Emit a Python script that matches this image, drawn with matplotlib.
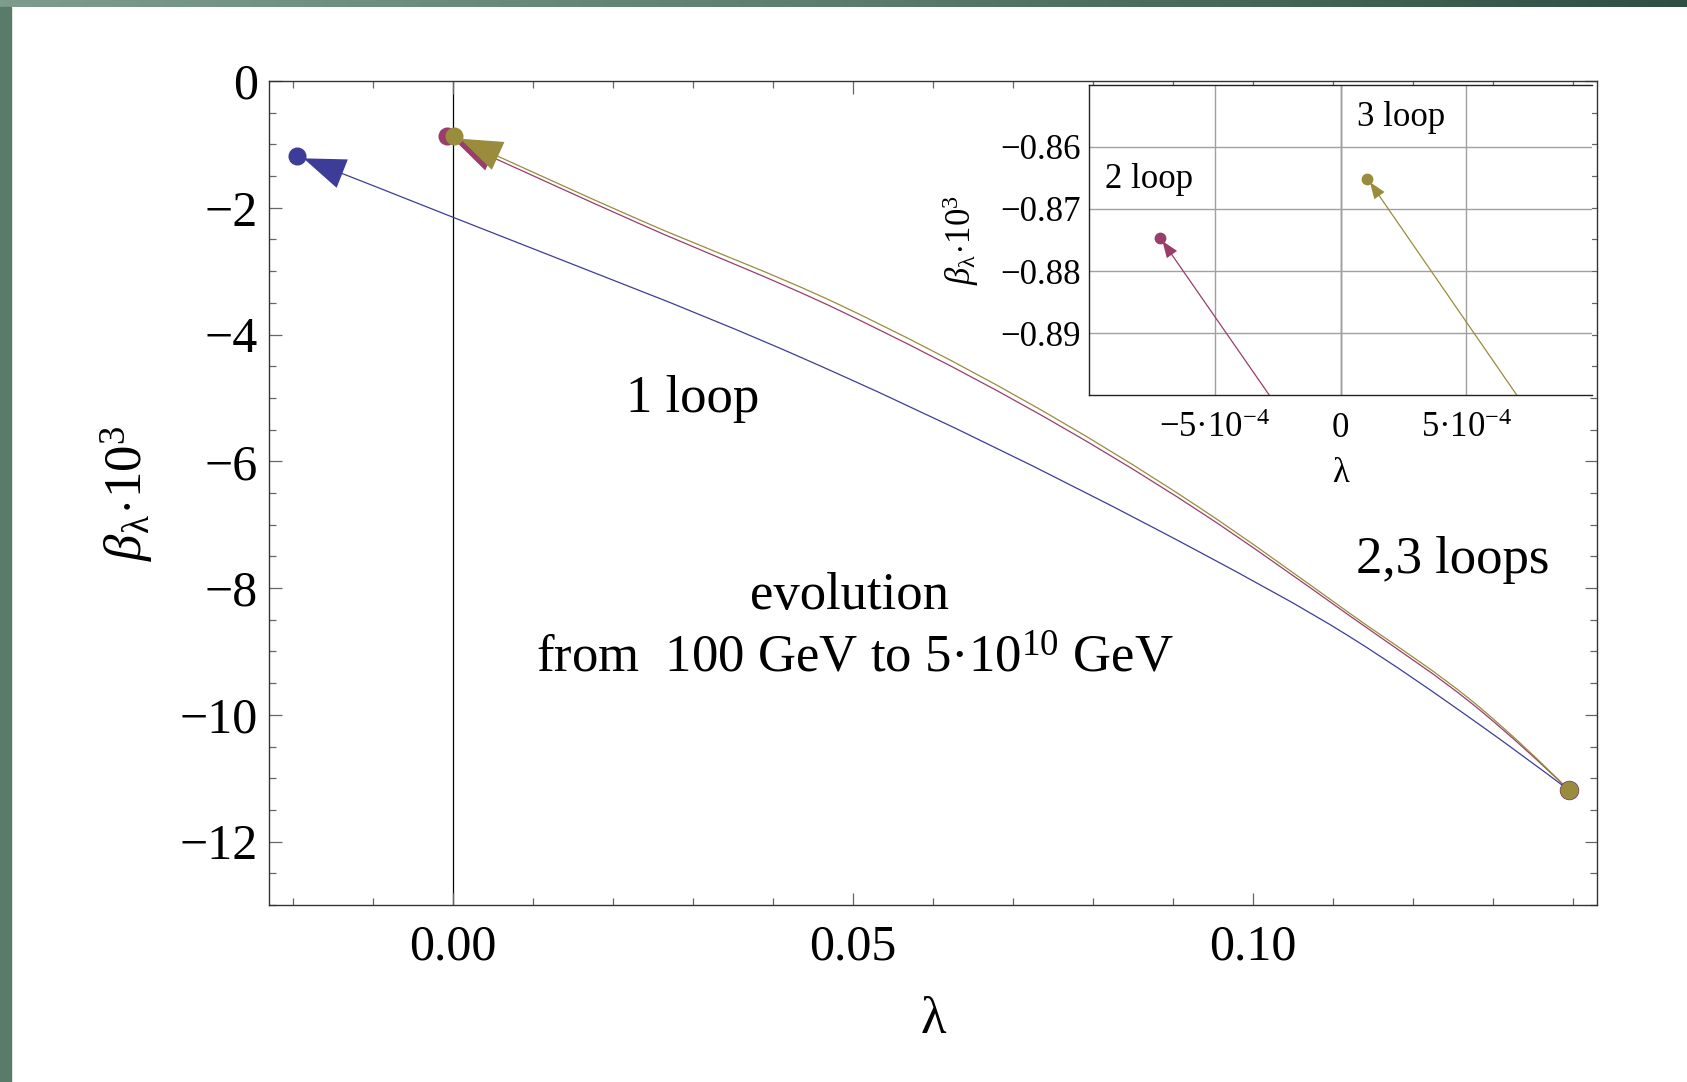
import numpy as np
import matplotlib.pyplot as plt
from matplotlib.colors import LinearSegmentedColormap
from matplotlib.patches import Rectangle, PathPatch
from matplotlib.path import Path

plt.rcParams['font.family'] = ['Liberation Serif', 'DejaVu Serif']
plt.rcParams['mathtext.fontset'] = 'custom'
plt.rcParams['mathtext.rm'] = 'Liberation Serif'
plt.rcParams['mathtext.it'] = 'Liberation Serif:italic'

# path of (lambda, beta_lambda*10^3) while running 100 GeV -> 5e10 GeV
lam_1loop = [0.1395, 0.1286, 0.112, 0.0933, 0.087, 0.0483, 0.0433, 0.0, -0.0195]
beta_1loop = [-11.19, -10.18, -8.76, -7.43, -7.01, -4.63, -4.35, -2.15, -1.18]

lam_2loop = [0.1395, 0.1286, 0.112, 0.0933, 0.0483, 0.0233, -0.000718]
beta_2loop = [-11.19, -9.95, -8.43, -6.79, -3.62, -2.25, -0.8746]

lam_3loop = [0.1395, 0.1286, 0.112, 0.0933, 0.0483, 0.0233, 0.000107]
beta_3loop = [-11.19, -9.91, -8.39, -6.73, -3.53, -2.19, -0.8651]

x_ticks = [0.0, 0.05, 0.10]
x_ticklabels = ['0.00', '0.05', '0.10']
y_ticks = [0, -2, -4, -6, -8, -10, -12]
y_ticklabels = ['0', '−2', '−4', '−6', '−8', '−10', '−12']

ins_x_ticks = [-5e-4, 0, 5e-4]
ins_x_ticklabels = ['−5·10$^{-4}$', '0', '5·10$^{-4}$']
ins_y_ticks = [-0.86, -0.87, -0.88, -0.89]
ins_y_ticklabels = ['−0.86', '−0.87', '−0.88', '−0.89']

blue = '#3d3d99'
red = '#993d6b'
olive = '#998c3d'


def smooth_path(lam, beta):
    # cubic Hermite pieces through every point, written as Bezier segments
    x = np.asarray(lam, float)
    y = np.asarray(beta, float)
    h = np.diff(x)
    d = np.diff(y) / h
    m = np.empty_like(y)
    m[1:-1] = (d[:-1] * h[1:] + d[1:] * h[:-1]) / (h[:-1] + h[1:])
    m[0] = d[0] + (d[0] - d[1]) * h[0] / (h[0] + h[1])
    m[-1] = d[-1] + (d[-1] - d[-2]) * h[-1] / (h[-1] + h[-2])
    verts = [(x[0], y[0])]
    codes = [Path.MOVETO]
    for i in range(len(h)):
        verts += [(x[i] + h[i] / 3, y[i] + m[i] * h[i] / 3),
                  (x[i + 1] - h[i] / 3, y[i + 1] - m[i + 1] * h[i] / 3),
                  (x[i + 1], y[i + 1])]
        codes += [Path.CURVE4] * 3
    return Path(verts, codes)


W, H = 1687, 1082
fig = plt.figure(figsize=(W / 100, H / 100), dpi=100)

# slide frame: gradient strip on top, plain strip on the left
strip = fig.add_axes([0, 1 - 7 / H, 1, 7 / H])
strip.imshow(np.linspace(0, 1, 256).reshape(1, -1), aspect='auto',
             cmap=LinearSegmentedColormap.from_list('slide', ['#7d9c8e', '#5b7d6e', '#2e5044']))
strip.axis('off')
fig.patches.append(Rectangle((0, 0), 11 / W, 1 - 7 / H, transform=fig.transFigure,
                             color='#587b6a', zorder=0))

ax = fig.add_axes([269 / W, 1 - 905 / H, (1597 - 269) / W, (905 - 81) / H])
ax.set_xlim(-0.023, 0.143)
ax.set_ylim(-13, 0)
ax.axvline(0, color='black', lw=0.9, zorder=1)

series = [(lam_1loop, beta_1loop, blue), (lam_2loop, beta_2loop, red), (lam_3loop, beta_3loop, olive)]

for lam, beta, c in series:
    ax.add_patch(PathPatch(smooth_path(lam, beta), fill=False, edgecolor=c, lw=0.9, zorder=2))
    ax.annotate('', xy=(lam[-1], beta[-1]), xytext=(lam[-2], beta[-2]),
                arrowprops=dict(arrowstyle='-|>,head_length=1.5,head_width=0.55',
                                color=c, lw=0, shrinkA=0, shrinkB=5, mutation_scale=20),
                zorder=3)
for lam, beta, c in series:
    ax.plot(lam[-1], beta[-1], 'o', ms=13, color=c, mew=0, zorder=4)
ax.plot(lam_1loop[0], beta_1loop[0], 'o', ms=14, color=blue, mew=0, zorder=4)
ax.plot(lam_2loop[0], beta_2loop[0], 'o', ms=13.5, color=red, mew=0, zorder=4)
ax.plot(lam_3loop[0], beta_3loop[0], 'o', ms=13, color=olive, mew=0, zorder=4)

ax.set_xticks(x_ticks)
ax.set_xticklabels(x_ticklabels)
ax.set_xticks(np.arange(-0.02, 0.1401, 0.01), minor=True)
ax.set_yticks(y_ticks)
ax.set_yticklabels(y_ticklabels)
ax.set_yticks(np.arange(-13, 0.01, 0.5), minor=True)
ax.tick_params(which='both', direction='in', top=True, right=True, color='#666666',
               labelsize=36, width=0.9)
ax.tick_params(which='major', length=9)
ax.tick_params(which='minor', length=5)
ax.tick_params(axis='x', pad=14)
ax.tick_params(axis='y', pad=8)
for s in ax.spines.values():
    s.set_color('#333333')
    s.set_linewidth(1.0)

ax.set_xlabel('λ', fontsize=38)
ax.xaxis.set_label_coords(0.5, -0.11)
ax.set_ylabel(r'$\beta_{\mathrm{\lambda}}\!\cdot\!10^{3}$', fontsize=38)
ax.yaxis.set_label_coords(-0.085, 0.5)

ax.text(0.030, -5.02, '1 loop', fontsize=38, ha='center', va='center')
ax.text(0.1250, -7.56, '2,3 loops', fontsize=38, ha='center', va='center')
ax.text(0.0496, -8.12, 'evolution', fontsize=38, ha='center', va='center')
ax.text(0.0502, -9.12, 'from  100 GeV to 5·10$^{10}$ GeV', fontsize=38, ha='center', va='center')

# zoom on the end points of the 2- and 3-loop paths
ins = fig.add_axes([1089 / W, 1 - 395 / H, (1592 - 1089) / W, (395 - 85) / H])
ins.set_facecolor('white')
ins.set_xlim(-1e-3, 1e-3)
ins.set_ylim(-0.9, -0.85)
ins.set_xticks(ins_x_ticks)
ins.set_xticklabels(ins_x_ticklabels)
ins.set_yticks(ins_y_ticks)
ins.set_yticklabels(ins_y_ticklabels)
ins.grid(True, color='#a0a0a0', lw=1.0)
ins.axvline(0, color='black', lw=0.9, zorder=1.5)
ins.tick_params(length=0, labelsize=25)
ins.tick_params(axis='x', pad=12)
ins.tick_params(axis='y', pad=6)
ins.spines['right'].set_visible(False)
for side in ['left', 'bottom', 'top']:
    ins.spines[side].set_color('#222222')
    ins.spines[side].set_linewidth(1.0)

for lam, beta, c in series[1:]:
    ins.add_patch(PathPatch(smooth_path(lam, beta), fill=False, edgecolor=c, lw=0.9, zorder=2))
    ins.annotate('', xy=(lam[-1], beta[-1]), xytext=(lam[-2], beta[-2]),
                 arrowprops=dict(arrowstyle='-|>,head_length=1.2,head_width=0.45',
                                 color=c, lw=0, shrinkA=0, shrinkB=3, mutation_scale=10),
                 zorder=3, annotation_clip=True)
    ins.plot(lam[-1], beta[-1], 'o', ms=8.5, color=c, mew=0, zorder=4)

ins.set_xlabel('λ', fontsize=25)
ins.xaxis.set_label_coords(0.5, -0.2)
ins.set_ylabel(r'$\beta_{\mathrm{\lambda}}\!\cdot\!10^{3}$', fontsize=25)
ins.yaxis.set_label_coords(-0.215, 0.5)
ins.text(-7.6e-4, -0.8652, '2 loop', fontsize=25, ha='center', va='center')
ins.text(2.4e-4, -0.8553, '3 loop', fontsize=25, ha='center', va='center')

fig.savefig('out.png', dpi=100, facecolor='white')
